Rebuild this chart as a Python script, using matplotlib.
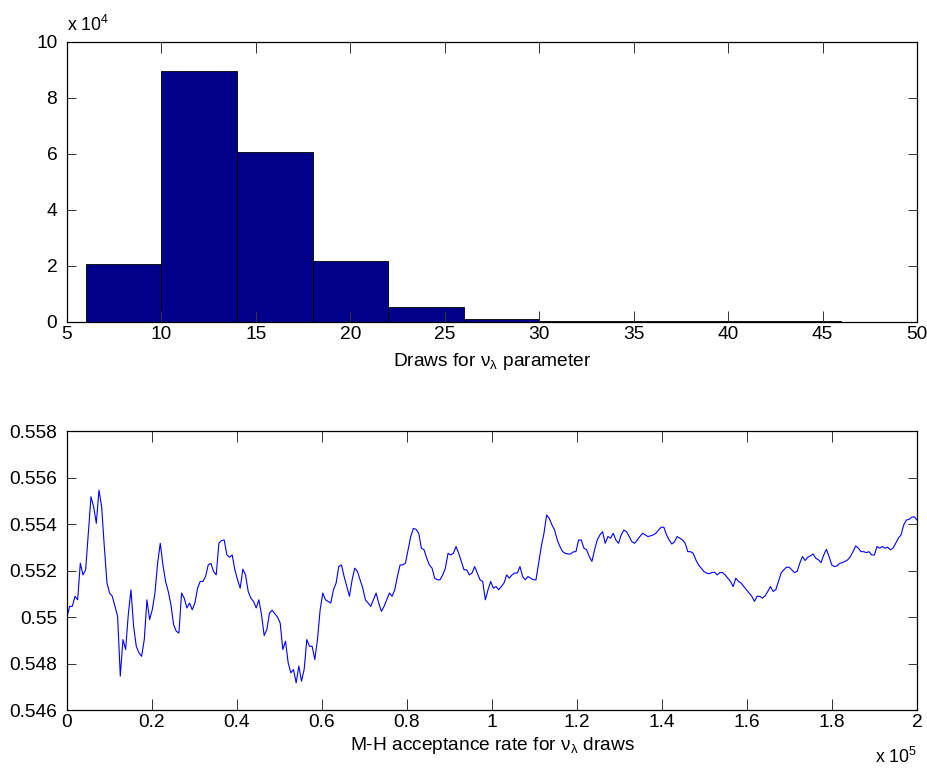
import numpy as np
import matplotlib
matplotlib.use("Agg")
import matplotlib.pyplot as plt
from matplotlib.ticker import FixedLocator, FixedFormatter

plt.rcParams['font.family'] = ['Liberation Sans', 'DejaVu Sans']
plt.rcParams['mathtext.default'] = 'regular'

# ---------------- data ----------------
# Histogram of nu_lambda draws
hist_edges = [6, 10, 14, 18, 22, 26, 30, 34, 38, 42, 46]
hist_counts = [20860, 89600, 60700, 21700, 5400, 1200, 500, 300, 250, 200]
hist_xticks = [5, 10, 15, 20, 25, 30, 35, 40, 45, 50]
hist_yticks = [0, 2e4, 4e4, 6e4, 8e4, 10e4]
hist_yticklabels = ['0', '2', '4', '6', '8', '10']

# Running M-H acceptance rate (evenly spaced over 0..2e5 draws)
acc_rate = [
    0.5500,
    0.55046, 0.55046, 0.55089, 0.55074, 0.55231, 0.55181, 0.55203, 0.55360, 0.55517, 0.55474,
    0.55403, 0.55546, 0.55474, 0.55303, 0.55146, 0.55103, 0.55089, 0.55046, 0.55003, 0.54746,
    0.54903, 0.54860, 0.55010, 0.55117, 0.54960, 0.54874, 0.54846, 0.54831, 0.54903, 0.55074,
    0.54989, 0.55031, 0.55103, 0.55231, 0.55317, 0.55224, 0.55153, 0.55110, 0.55053, 0.54967,
    0.54939, 0.54931, 0.55103, 0.55081, 0.55039, 0.55060, 0.55031, 0.55060, 0.55124, 0.55153,
    0.55153, 0.55174, 0.55224, 0.55231, 0.55196, 0.55181, 0.55317, 0.55329, 0.55331, 0.55267,
    0.55257, 0.55267, 0.55203, 0.55160, 0.55124, 0.55206, 0.55181, 0.55110, 0.55081, 0.55067,
    0.55039, 0.55074, 0.55010, 0.54920, 0.54946, 0.55017, 0.55029, 0.55014, 0.55000, 0.54974,
    0.54860, 0.54896, 0.54803, 0.54760, 0.54774, 0.54717, 0.54789, 0.54724, 0.54774, 0.54903,
    0.54874, 0.54874, 0.54817, 0.54903, 0.55031, 0.55103, 0.55074, 0.55067, 0.55060, 0.55117,
    0.55146, 0.55217, 0.55224, 0.55174, 0.55131, 0.55089, 0.55160, 0.55210, 0.55196, 0.55160,
    0.55124, 0.55074, 0.55060, 0.55046, 0.55074, 0.55103, 0.55060, 0.55024, 0.55046, 0.55074,
    0.55103, 0.55089, 0.55117, 0.55174, 0.55224, 0.55224, 0.55231, 0.55289, 0.55346, 0.55381,
    0.55377, 0.55360, 0.55296, 0.55289, 0.55253, 0.55224, 0.55210, 0.55167, 0.55160, 0.55160,
    0.55181, 0.55210, 0.55274, 0.55267, 0.55274, 0.55303, 0.55274, 0.55239, 0.55203, 0.55203,
    0.55181, 0.55189, 0.55217, 0.55189, 0.55160, 0.55153, 0.55074, 0.55117, 0.55153,
    0.55124, 0.55131, 0.55117, 0.55131, 0.55146, 0.55181, 0.55167, 0.55181, 0.55189, 0.55189,
    0.55217, 0.55174, 0.55160, 0.55174, 0.55167, 0.55160, 0.55160, 0.55231, 0.55303, 0.55360,
    0.55439, 0.55424, 0.55396, 0.55374, 0.55331, 0.55303, 0.55281, 0.55274, 0.55271, 0.55271,
    0.55280, 0.55281, 0.55331, 0.55331, 0.55296, 0.55289, 0.55260, 0.55239, 0.55289, 0.55331,
    0.55353, 0.55367, 0.55317, 0.55346, 0.55339, 0.55360, 0.55331, 0.55317, 0.55353, 0.55374,
    0.55367, 0.55346, 0.55324, 0.55317, 0.55331, 0.55346, 0.55360, 0.55353, 0.55346, 0.55349,
    0.55353, 0.55360, 0.55374, 0.55386, 0.55386, 0.55353, 0.55331, 0.55314, 0.55324, 0.55346,
    0.55339, 0.55331, 0.55317, 0.55281, 0.55281, 0.55274, 0.55246, 0.55224, 0.55210,
    0.55196, 0.55189, 0.55186, 0.55191, 0.55193, 0.55181, 0.55191, 0.55191, 0.55181, 0.55167,
    0.55153, 0.55131, 0.55167, 0.55153, 0.55146, 0.55131, 0.55117, 0.55103, 0.55089, 0.55067,
    0.55089, 0.55089, 0.55081, 0.55091, 0.55110, 0.55131, 0.55110, 0.55117, 0.55153, 0.55189,
    0.55203, 0.55214, 0.55214, 0.55203, 0.55191, 0.55196, 0.55231, 0.55260, 0.55243, 0.55257,
    0.55263, 0.55271, 0.55253, 0.55246, 0.55234, 0.55267, 0.55291, 0.55260, 0.55224, 0.55217,
    0.55220, 0.55231, 0.55234, 0.55239, 0.55246, 0.55260, 0.55281, 0.55306, 0.55296, 0.55281,
    0.55281, 0.55277, 0.55281, 0.55267, 0.55267, 0.55303, 0.55296, 0.55303, 0.55296, 0.55300,
    0.55289, 0.55296, 0.55317, 0.55339, 0.55353, 0.55396, 0.55417, 0.55420, 0.55429, 0.55431,
    0.55417,
]
n_draws = 200000
acc_xticks = [0, 0.2e5, 0.4e5, 0.6e5, 0.8e5, 1.0e5, 1.2e5, 1.4e5, 1.6e5, 1.8e5, 2.0e5]
acc_xticklabels = ['0', '0.2', '0.4', '0.6', '0.8', '1', '1.2', '1.4', '1.6', '1.8', '2']
acc_yticks = [0.546, 0.548, 0.550, 0.552, 0.554, 0.556, 0.558]
acc_yticklabels = ['0.546', '0.548', '0.55', '0.552', '0.554', '0.556', '0.558']

# ---------------- figure ----------------
W, H = 928, 768
fig = plt.figure(figsize=(W / 100, H / 100), dpi=100)

def ax_rect(left, top, right, bottom):
    return [left / W, 1 - bottom / H, (right - left) / W, (bottom - top) / H]

FS = 13.8

def style(ax):
    for s in ax.spines.values():
        s.set_linewidth(0.9)
        s.set_color('black')
    ax.tick_params(axis='x', which='both', direction='in', top=True, bottom=True,
                   length=8, width=0.7, labelsize=FS, pad=3, color='#333333')
    ax.tick_params(axis='y', which='both', direction='in', left=True, right=True,
                   length=6.5, width=0.7, labelsize=FS, pad=7, color='#333333')

# Top: histogram
ax1 = fig.add_axes(ax_rect(67, 42, 917, 322))
widths = np.diff(hist_edges)
ax1.bar(hist_edges[:-1], hist_counts, width=widths, align='edge',
        color='#000088', edgecolor='black', linewidth=0.6)
ax1.set_xlim(5, 50)
ax1.set_ylim(0, 10e4)
ax1.xaxis.set_major_locator(FixedLocator(hist_xticks))
ax1.xaxis.set_major_formatter(FixedFormatter([str(v) for v in hist_xticks]))
ax1.yaxis.set_major_locator(FixedLocator(hist_yticks))
ax1.yaxis.set_major_formatter(FixedFormatter(hist_yticklabels))
style(ax1)
ax1.set_xlabel(r'Draws for $\nu_\lambda$ parameter', fontsize=FS, labelpad=6)
fig.text(67 / W, 1 - 31 / H, r'x 10$^4$', fontsize=FS - 1, ha='left', va='baseline')

# Bottom: acceptance rate trace
ax2 = fig.add_axes(ax_rect(67, 431, 917, 710))
x = np.linspace(0, n_draws, len(acc_rate))
ax2.plot(x, acc_rate, color='#0000FF', linewidth=0.8)
ax2.set_xlim(0, n_draws)
ax2.set_ylim(0.546, 0.558)
ax2.xaxis.set_major_locator(FixedLocator(acc_xticks))
ax2.xaxis.set_major_formatter(FixedFormatter(acc_xticklabels))
ax2.yaxis.set_major_locator(FixedLocator(acc_yticks))
ax2.yaxis.set_major_formatter(FixedFormatter(acc_yticklabels))
style(ax2)
ax2.set_xlabel(r'M-H acceptance rate for $\nu_\lambda$ draws', fontsize=FS, labelpad=3)
fig.text(917 / W, 1 - 763 / H, r'x 10$^5$', fontsize=FS - 1, ha='right', va='baseline')

fig.savefig('out.png', dpi=100)
